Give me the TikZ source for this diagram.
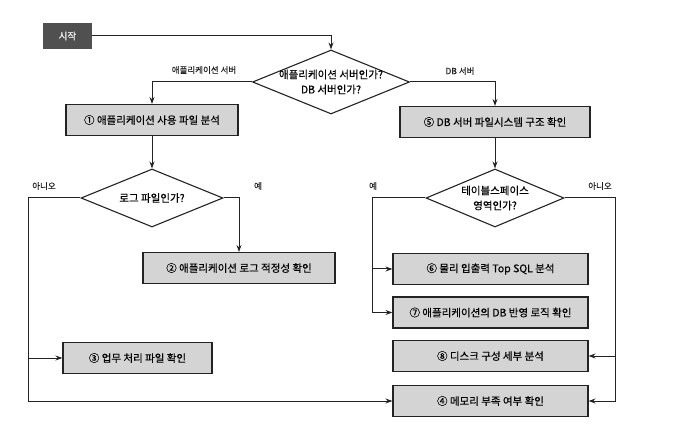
\documentclass[tikz,border=0pt]{standalone}
\usepackage{fontspec}
\setmainfont{Noto Sans CJK KR}[FakeBold=0.3]
\usetikzlibrary{arrows.meta,shapes.geometric,calc}
\definecolor{inkgray}{RGB}{35,35,35}
\definecolor{boxgray}{RGB}{212,212,212}
\definecolor{startgray}{RGB}{80,80,80}
\tikzset{
  startnode/.style={fill=startgray, text=white, minimum width=49pt, minimum height=26pt,
    inner sep=2pt, font=\fontsize{9.5}{11}\selectfont},
  procnode/.style={draw=inkgray, fill=boxgray, line width=1.1pt, minimum height=31pt,
    inner sep=3pt, font=\fontsize{10.5}{12}\selectfont},
  decnode/.style={diamond, draw=inkgray, fill=white, line width=1.1pt, inner sep=0pt},
  dectext/.style={align=center, inner sep=0pt, font=\fontsize{10.5}{15}\selectfont},
  branchlbl/.style={inner sep=1pt, font=\fontsize{8.5}{10}\selectfont, text=inkgray},
  flow/.style={-{Stealth[length=7pt,width=5pt]}, line width=1pt, draw=inkgray},
}
\begin{document}
\begin{tikzpicture}[x=1pt, y=-1pt]
      \useasboundingbox (0,0) rectangle (680,430);

      %% ---- start and server type ----
      \node[startnode] (start) at (67.5,36) {시작};
      \node[decnode, minimum width=157pt, minimum height=64pt] (d1) at (331,82) {};
      \node[dectext] (d1t) at (d1) {애플리케이션 서버인가?\\DB 서버인가?};
      \draw[flow] (start.east) -| (d1.north);

      \node[procnode, minimum width=172pt] (p1) at (152,120) {① 애플리케이션 사용 파일 분석};
      \node[procnode, minimum width=190pt] (p5) at (495,122) {⑤ DB 서버 파일시스템 구조 확인};
      \draw[flow] (d1.west) -| (p1.north);
      \draw[flow] (d1.east) -| (p5.north);
      \node[branchlbl] (lapp) at (204,70) {애플리케이션 서버};
      \node[branchlbl] (ldb) at (460,71) {DB 서버};

      %% ---- application server side ----
      \node[decnode, minimum width=142pt, minimum height=58pt] (d2) at (152,198) {};
      \node[dectext] (d2t) at (d2) {로그 파일인가?};
      \draw[flow] (p1.south) -- (d2.north);

      \node[procnode, minimum width=192pt] (p2) at (239,268) {② 애플리케이션 로그 적정성 확인};
      \node[procnode, minimum width=149pt] (p3) at (137.5,358) {③ 업무 처리 파일 확인};
      \node[branchlbl] (lno1) at (44,186) {아니오};
      \node[branchlbl] (lyes1) at (258,186) {예};
      \draw[flow] (d2.east) -| (p2.north);

      %% ---- DB server side ----
      \node[decnode, minimum width=138pt, minimum height=58pt] (d3) at (495,198) {};
      \node[dectext] (d3t) at (d3) {테이블스페이스\\영역인가?};
      \draw[flow] (p5.south) -- (d3.north);
      \node[branchlbl] (lyes2) at (373,186) {예};
      \node[branchlbl] (lno2) at (600,186) {아니오};

      \foreach \nm/\py/\lbl in {p6/269/{⑥ 물리 입출력 Top SQL 분석},
                                p7/312.5/{⑦ 애플리케이션의 DB 반영 로직 확인},
                                p8/356/{⑧ 디스크 구성 세부 분석},
                                p4/401/{④ 메모리 부족 여부 확인}}{
        \node[procnode, minimum width=195pt] (\nm) at (490.5,\py) {\lbl};}

      %% ---- rails ----
      \coordinate (lrail) at (28,401);
      \draw[flow] (d2.west) -| (lrail) -- (p4.west);
      \draw[flow] (lrail |- p3.west) -- (p3.west);

      \coordinate (yrail) at (372,312.5);
      \draw[flow] (d3.west) -| (yrail) -- (p7.west);
      \draw[flow] (yrail |- p6.west) -- (p6.west);

      \coordinate (nrail) at (615,401);
      \draw[flow] (d3.east) -| (nrail) -- (p4.east);
      \draw[flow] (nrail |- p8.east) -- (p8.east);
\end{tikzpicture}
\end{document}
